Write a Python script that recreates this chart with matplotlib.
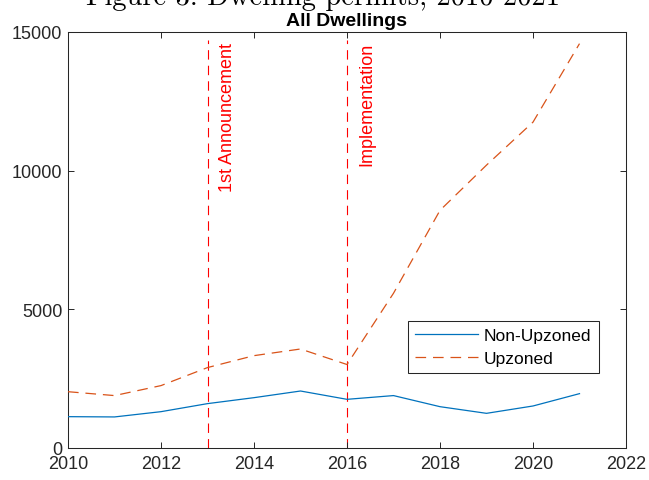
import matplotlib
matplotlib.use("Agg")
import matplotlib.pyplot as plt

years = [2010, 2011, 2012, 2013, 2014, 2015, 2016, 2017, 2018, 2019, 2020, 2021]
non_upzoned = [1130, 1120, 1310, 1600, 1815, 2055, 1755, 1890, 1490, 1250, 1515, 1960]
upzoned = [2030, 1890, 2250, 2900, 3330, 3570, 3010, 5580, 8570, 10200, 11750, 14580]
event_years = [2013, 2016]
event_labels = ["1st Announcement", "Implementation"]
event_top = 14700
series_labels = ["Non-Upzoned", "Upzoned"]
xticks = [2010, 2012, 2014, 2016, 2018, 2020, 2022]
yticks = [0, 5000, 10000, 15000]

plt.rcParams['font.family'] = ['Liberation Sans', 'DejaVu Sans']
dark = '#262626'

fig = plt.figure(figsize=(6.49, 4.81), dpi=100)
ax = fig.add_axes([68/649, 1-449/481, 558/649, 416/481])

for ey, lab in zip(event_years, event_labels):
    ax.plot([ey, ey], [0, event_top], color='#FF0000', lw=0.8, dashes=(8.5, 5.5), zorder=1)
    ax.text(ey + 0.43, 14640, lab, rotation=90, color='#FF0000', fontsize=13,
            ha='center', va='top')

ax.plot(years, non_upzoned, color='#0072BD', lw=0.9, label=series_labels[0], zorder=3)
ax.plot(years, upzoned, color='#D95319', lw=0.9, dashes=(8.5, 5.5), label=series_labels[1], zorder=3)

ax.set_xlim(2010, 2022)
ax.set_ylim(0, 15000)
ax.set_xticks(xticks)
ax.set_yticks(yticks)
ax.tick_params(direction='in', top=True, right=True, length=4, width=0.7,
               colors=dark, labelsize=13, pad=4)
ax.tick_params(axis='x', pad=5)
for s in ax.spines.values():
    s.set_color(dark)
    s.set_linewidth(0.75)

ax.set_title("All Dwellings", fontsize=14, fontweight='bold', pad=5)

leg = ax.legend(loc='upper left', bbox_to_anchor=((408-68)/558, (449-322)/416),
                borderaxespad=0, fontsize=12.5, handlelength=3.6, handletextpad=0.35,
                borderpad=0.42, labelspacing=0.42, fancybox=False, framealpha=1)
leg.get_frame().set_edgecolor(dark)
leg.get_frame().set_linewidth(0.75)

fig.text(0.5 + (323 - 324.5)/649, 1 - 5/481, "Figure 3: Dwelling permits, 2010-2021",
         family='cmr10', fontsize=20.5, ha='center', va='baseline')

fig.savefig("out.png", dpi=100)
